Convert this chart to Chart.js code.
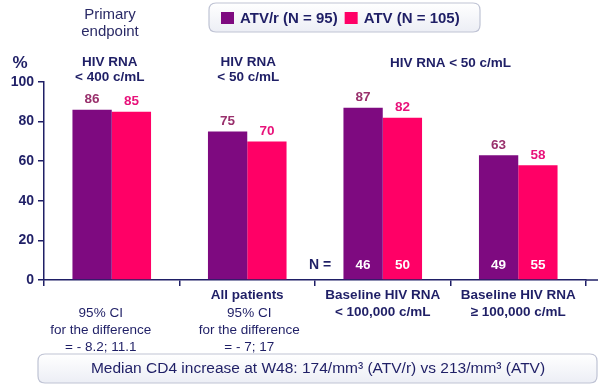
<!DOCTYPE html>
<html>
<head>
<meta charset="utf-8">
<script src="https://cdn.jsdelivr.net/npm/chart.js@4.4.1/dist/chart.umd.min.js"></script>
<style>
  html, body { margin: 0; padding: 0; background: #fff; }
  #wrap { width: 600px; height: 388px; position: relative; }
</style>
</head>
<body>
<div id="wrap"><canvas id="barChart"></canvas></div>
<script>
// Chart data
const categories = ['< 400 c/mL', 'All patients', '< 100,000 c/mL', '>= 100,000 c/mL']
const seriesNames = ['ATV/r (N = 95)', 'ATV (N = 105)']
const atvrValues = [86, 75, 87, 63]
const atvValues = [85, 70, 82, 58]
const atvrN = [null, null, 46, 49]
const atvN = [null, null, 50, 55]
const yTicks = [0, 20, 40, 60, 80, 100]

// text around the plot
const boldXLabels = [[], ['All patients'], ['Baseline HIV RNA', '< 100,000 c/mL'], ['Baseline HIV RNA', '\u2265 100,000 c/mL']]
const ciXLabels = [['95% CI', 'for the difference', '= - 8.2; 11.1'], ['95% CI', 'for the difference', '= - 7; 17'], [], []]
const headerLines = [['HIV RNA', '< 400 c/mL'], ['HIV RNA', '< 50 c/mL'], ['HIV RNA < 50 c/mL']]
const footnote = 'Median CD4 increase at W48: 174/mm\u00b3 (ATV/r) vs 213/mm\u00b3 (ATV)'

const navy = '#1f1f66'
const purple = '#7e0a80'
const pink = '#ff0066'
const fontFam = "'Liberation Sans', Arial, sans-serif"

function roundRect(ctx, x, y, w, h, r) {
    ctx.beginPath()
    ctx.moveTo(x + r, y)
    ctx.lineTo(x + w - r, y)
    ctx.quadraticCurveTo(x + w, y, x + w, y + r)
    ctx.lineTo(x + w, y + h - r)
    ctx.quadraticCurveTo(x + w, y + h, x + w - r, y + h)
    ctx.lineTo(x + r, y + h)
    ctx.quadraticCurveTo(x, y + h, x, y + h - r)
    ctx.lineTo(x, y + r)
    ctx.quadraticCurveTo(x, y, x + r, y)
    ctx.closePath()
}

function boxWithGradient(ctx, x, y, w, h) {
    let g = ctx.createLinearGradient(0, y, 0, y + h)
    g.addColorStop(0, '#ffffff')
    g.addColorStop(1, '#eceef5')
    roundRect(ctx, x, y, w, h, 7)
    ctx.fillStyle = g
    ctx.fill()
    ctx.strokeStyle = '#bfc3d4'
    ctx.lineWidth = 1.2
    ctx.stroke()
}

const annotate = {
    id: 'annotate',
    afterDraw(chart) {
        const ctx = chart.ctx
        const xs = chart.scales.x
        const ys = chart.scales.y
        const area = chart.chartArea
        ctx.save()

        // extend x axis line to the right edge
        ctx.strokeStyle = navy
        ctx.lineWidth = 1.5
        ctx.beginPath()
        ctx.moveTo(area.right, area.bottom)
        ctx.lineTo(598, area.bottom)
        ctx.stroke()

        ctx.textAlign = 'center'
        ctx.textBaseline = 'middle'

        // value labels above bars, N inside bars
        const labelColors = ['#99306c', '#e8127a']
        const nValues = [atvrN, atvN]
        chart.data.datasets.forEach((ds, di) => {
            chart.getDatasetMeta(di).data.forEach((bar, i) => {
                ctx.font = 'bold 13.5px ' + fontFam
                ctx.fillStyle = labelColors[di]
                ctx.fillText(ds.data[i], bar.x, bar.y - 10)
                if (nValues[di][i] != null) {
                    ctx.fillStyle = '#ffffff'
                    ctx.fillText(nValues[di][i], bar.x, ys.getPixelForValue(0) - 15)
                }
            })
        })
        ctx.font = 'bold 14px ' + fontFam
        ctx.fillStyle = navy
        ctx.fillText('N =', 320, ys.getPixelForValue(0) - 15)

        // x labels under the axis
        const centers = categories.map((c, i) => xs.getPixelForValue(i))
        ctx.font = 'bold 13.5px ' + fontFam
        boldXLabels.forEach((lines, i) => {
            lines.forEach((t, k) => ctx.fillText(t, centers[i], 295 + k * 17))
        })
        ctx.font = '13.5px ' + fontFam
        const ciShift = [-11, 2, 0, 0]
        ciXLabels.forEach((lines, i) => {
            lines.forEach((t, k) => ctx.fillText(t, centers[i] + ciShift[i], 313 + k * 17))
        })

        // headings above the plot
        ctx.font = 'bold 13.5px ' + fontFam
        headerLines[0].forEach((t, k) => ctx.fillText(t, centers[0] - 2, 62 + k * 15))
        headerLines[1].forEach((t, k) => ctx.fillText(t, centers[1] + 1, 62 + k * 15))
        ctx.fillText(headerLines[2][0], (centers[2] + centers[3]) / 2, 63)

        ctx.font = '15px ' + fontFam
        ctx.fillStyle = '#2a2a66'
        ctx.fillText('Primary', 110, 15)
        ctx.fillText('endpoint', 110, 32)

        ctx.font = 'bold 17px ' + fontFam
        ctx.fillStyle = navy
        ctx.fillText('%', 20, 63)

        // legend
        boxWithGradient(ctx, 209, 3, 271, 29)
        ctx.textAlign = 'left'
        ctx.font = 'bold 15px ' + fontFam
        let lx = 221
        chart.data.datasets.forEach((ds, di) => {
            ctx.fillStyle = ds.backgroundColor
            ctx.fillRect(lx, 12, 13, 12)
            lx += 19
            ctx.fillStyle = navy
            ctx.fillText(ds.label, lx, 18.5)
            lx += ctx.measureText(ds.label).width + 7
        })

        // footnote box
        boxWithGradient(ctx, 38, 354, 559, 29)
        ctx.textAlign = 'center'
        ctx.font = '15.5px ' + fontFam
        ctx.fillStyle = navy
        ctx.fillText(footnote, 318, 368.5)

        ctx.restore()
    }
}

const chartData = {
    labels: categories,
    datasets: [
        { label: seriesNames[0], data: atvrValues, backgroundColor: purple },
        { label: seriesNames[1], data: atvValues, backgroundColor: pink }
    ]
}

const chartConfig = {
    type: 'bar',
    data: chartData,
    options: {
        responsive: false,
        animation: false,
        layout: { padding: { top: 82, right: 14, left: 0, bottom: 0 } },
        datasets: { bar: { barPercentage: 1, categoryPercentage: 0.58 } },
        plugins: {
            legend: { display: false },
            tooltip: { enabled: false }
        },
        scales: {
            x: {
                grid: {
                    offset: true,
                    drawOnChartArea: false,
                    tickLength: 6,
                    lineWidth: 1.5,
                    color: (c) => c.index === 4 ? 'rgba(0,0,0,0)' : navy
                },
                border: { color: navy, width: 1.5 },
                ticks: { display: false },
                afterFit: (scale) => { scale.height = 108 }
            },
            y: {
                min: 0,
                max: 100,
                afterBuildTicks: (scale) => { scale.ticks = yTicks.map(v => ({ value: v })) },
                grid: { drawOnChartArea: false, tickLength: 6, lineWidth: 1.5, color: navy },
                border: { color: navy, width: 1.5 },
                ticks: { color: navy, font: { family: fontFam, size: 14, weight: 'bold' }, padding: 4 },
                afterFit: (scale) => { scale.width = 44 }
            }
        }
    },
    plugins: [annotate]
}

const canvas = document.getElementById('barChart')
canvas.width = 600
canvas.height = 388
const ctx = canvas.getContext('2d')
const barChart = new Chart(ctx, chartConfig)
</script>
</body>
</html>
